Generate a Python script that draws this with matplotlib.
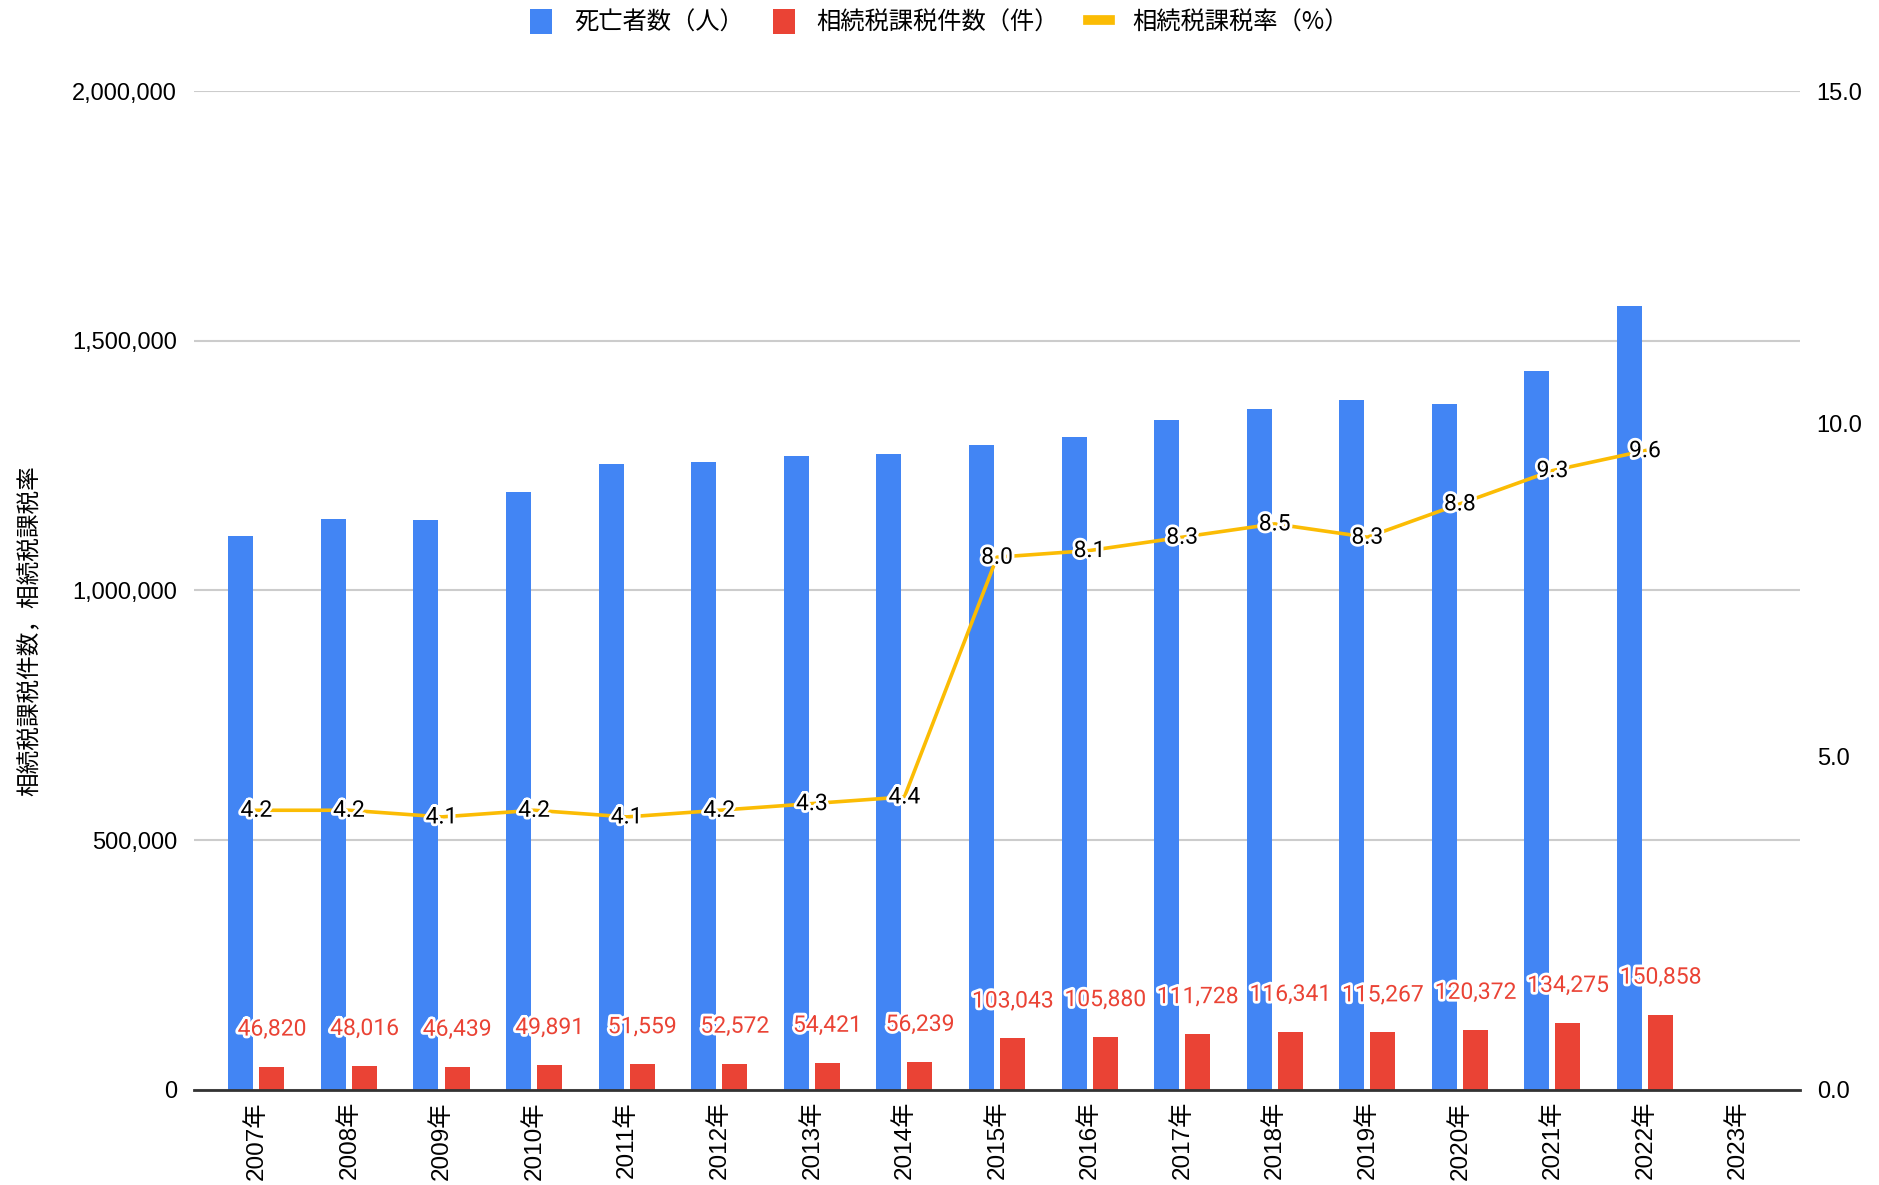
import matplotlib.pyplot as plt
import matplotlib.patheffects as pe
from matplotlib.lines import Line2D
from matplotlib.patches import Patch
import numpy as np

years = ['2007年', '2008年', '2009年', '2010年', '2011年', '2012年', '2013年', '2014年',
         '2015年', '2016年', '2017年', '2018年', '2019年', '2020年', '2021年', '2022年', '2023年']
deaths = [1108334, 1142407, 1141865, 1197012, 1253066, 1256359, 1268436, 1273004,
          1290444, 1307748, 1340397, 1362470, 1381093, 1372755, 1439856, 1569050]
taxed = [46820, 48016, 46439, 49891, 51559, 52572, 54421, 56239,
         103043, 105880, 111728, 116341, 115267, 120372, 134275, 150858]
rate = [4.2, 4.2, 4.1, 4.2, 4.1, 4.2, 4.3, 4.4, 8.0, 8.1, 8.3, 8.5, 8.3, 8.8, 9.3, 9.6]

BLUE = '#4285f4'
RED = '#ea4335'
YELLOW = '#fbbc04'
LATIN = ['Liberation Sans', 'Noto Sans CJK JP']
CJK = ['Noto Sans CJK JP', 'DejaVu Sans']

plt.rcParams['font.family'] = LATIN

fig = plt.figure(figsize=(18.79, 11.85), dpi=100)
ax = fig.add_axes([0.1032, 0.0802, 0.958 - 0.1032, 0.9232 - 0.0802])
ax2 = ax.twinx()

x = np.arange(len(deaths))
w = 0.27
off = 0.168

ax.bar(x - off, deaths, width=w, color=BLUE, zorder=2)
ax.bar(x + off, taxed, width=w, color=RED, zorder=2)

ax.set_xlim(-0.675, 16.675)
ax.set_ylim(0, 2000000)
ax.set_yticks([0, 500000, 1000000, 1500000, 2000000])
ax.set_yticklabels(['0', '500,000', '1,000,000', '1,500,000', '2,000,000'])
ax.grid(axis='y', color='#cccccc', linewidth=1.5, zorder=0)
ax.set_axisbelow(True)
ax.set_xticks(np.arange(len(years)))
ax.set_xticklabels(years, rotation=90, fontsize=17.5, va='top', family=LATIN)
ax.tick_params(axis='y', length=0, labelsize=17, pad=12)
ax.tick_params(axis='x', length=0, pad=8)
for s in ['top', 'right', 'left']:
    ax.spines[s].set_visible(False)
ax.spines['bottom'].set_color('#333333')
ax.spines['bottom'].set_linewidth(2)
ax.spines['bottom'].set_zorder(5)

# rate line on the right axis
ax2.plot(x, rate, color=YELLOW, linewidth=2.6, zorder=3)
ax2.set_ylim(0, 15)
ax2.set_yticks([0, 5, 10, 15])
ax2.set_yticklabels(['0.0', '5.0', '10.0', '15.0'])
ax2.tick_params(axis='y', length=0, labelsize=17, pad=12)
for s in ['top', 'right', 'left', 'bottom']:
    ax2.spines[s].set_visible(False)

halo = [pe.withStroke(linewidth=4, foreground='white')]
for i, v in enumerate(taxed):
    ax.annotate(f'{v:,}', (x[i] + off, v), xytext=(0, 27), textcoords='offset points',
                ha='center', va='center', fontsize=16.5, color=RED, family='Roboto',
                path_effects=halo, zorder=6)
for i, v in enumerate(rate):
    ax2.text(x[i], v, f'{v:.1f}', ha='center', va='center', fontsize=16.5,
             color='black', family='Roboto', path_effects=halo, zorder=6)

ax.set_ylabel('相続税課税件数，相続税課税率', family=CJK, fontsize=17)
ax.yaxis.set_label_coords(-0.095, 0.46)

handles = [Patch(facecolor=BLUE), Patch(facecolor=RED),
           Line2D([], [], color=YELLOW, linewidth=7)]
labels = ['死亡者数（人）', '相続税課税件数（件）', '相続税課税率（%）']
fig.legend(handles, labels, loc='center', bbox_to_anchor=(0.5, 0.981), ncol=3,
           frameon=False, prop={'family': CJK, 'size': 17.5},
           handlelength=0.9, handleheight=1.2, handletextpad=0.9, columnspacing=1.2)

fig.savefig('out.png', dpi=100)
